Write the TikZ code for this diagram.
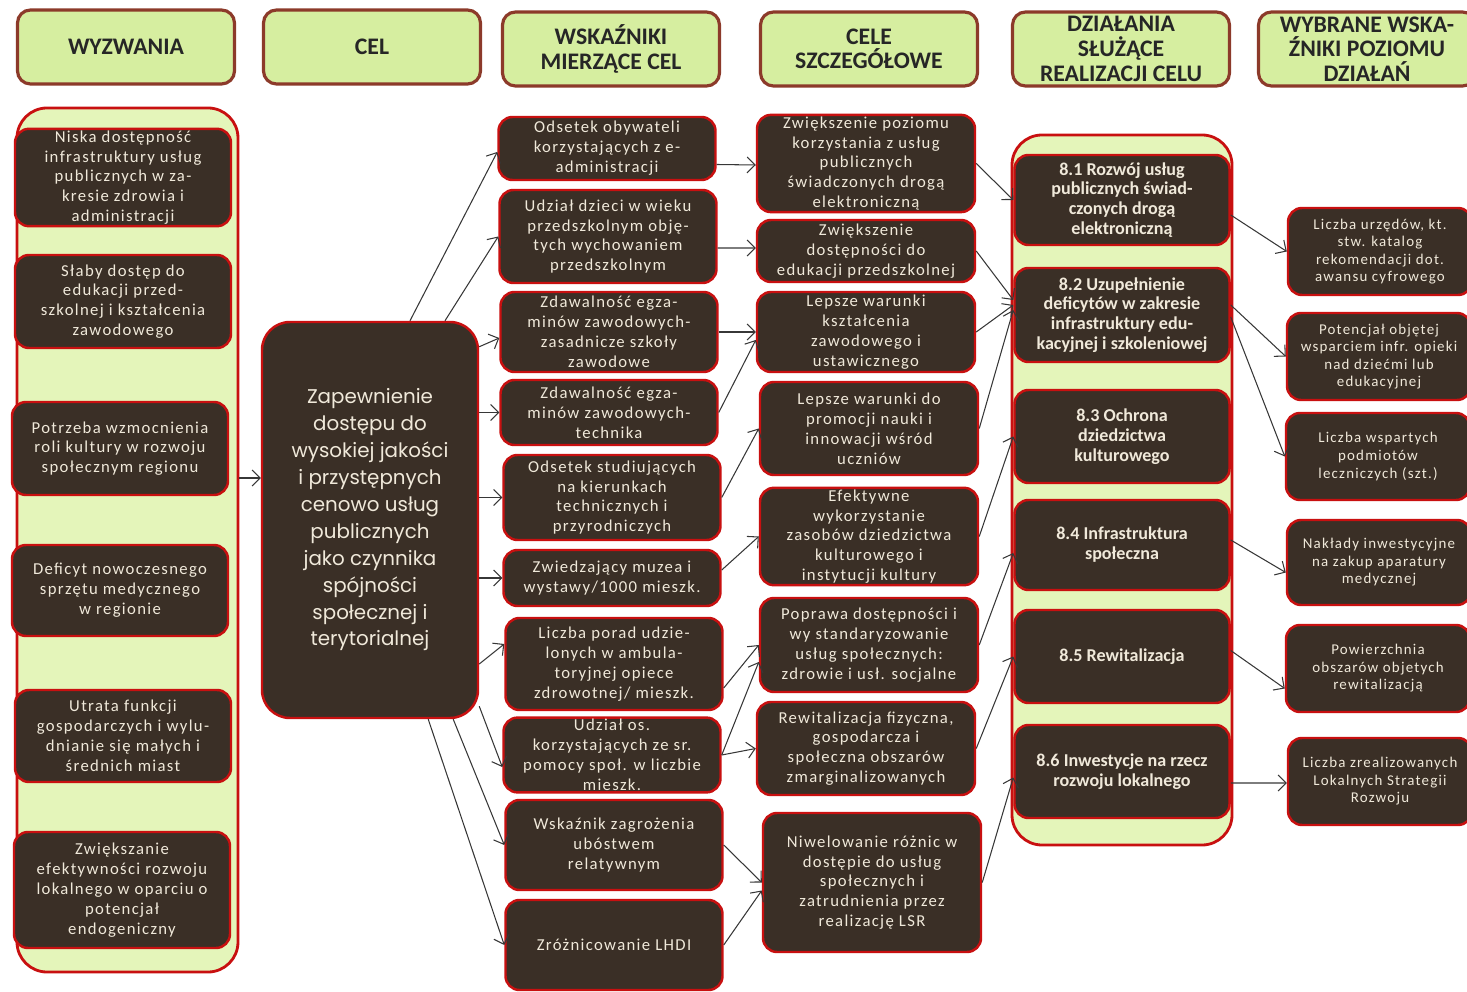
\documentclass[tikz,border=0pt]{standalone}
\usepackage{fontspec}
\setmainfont{Carlito}
\newfontfamily\rozstrzel[LetterSpace=8]{Carlito}
\newfontfamily\celfont{Poppins}
\usetikzlibrary{arrows.meta}

\definecolor{brazowy}{RGB}{58,47,38}
\definecolor{kremowy}{RGB}{240,233,218}
\definecolor{czerwony}{RGB}{200,16,16}
\definecolor{zielony}{RGB}{228,245,186}
\definecolor{naglzielony}{RGB}{214,238,160}
\definecolor{naglbrzeg}{RGB}{140,58,42}
\definecolor{linia}{RGB}{55,55,55}

\begin{document}
\begin{tikzpicture}
  [
    x=0.2mm, y=-0.2mm,
    >={Straight Barb[length=1.6mm,width=3.2mm]},
    nagl/.style={draw=naglbrzeg, line width=1.8pt, fill=naglzielony,
      rounded corners=2.6mm, minimum width=43.4mm, minimum height=14.8mm,
      inner sep=0pt, align=center, text=black!85,
      font=\bfseries\fontsize{13.5}{14}\selectfont},
    ramka/.style={draw=czerwony, line width=1.6pt, fill=zielony,
      rounded corners=6mm, inner sep=0pt},
    pole/.style={draw=czerwony, line width=1.4pt, fill=brazowy,
      rounded corners=2.8mm, text=kremowy, align=center, inner sep=1pt,
      font=\rozstrzel\fontsize{9.5}{11.3}\selectfont},
    wyz/.style={pole, minimum width=43.2mm},
    wsk/.style={pole, minimum width=43.4mm},
    cs/.style={pole, minimum width=43.6mm},
    dz/.style={pole, minimum width=43mm,
      font=\bfseries\fontsize{10.3}{11.3}\selectfont},
    wd/.style={pole, minimum width=36.8mm,
      font=\rozstrzel\fontsize{8.5}{10}\selectfont},
    ld/.style={draw=linia, line width=0.6pt, ->}
  ]
  \useasboundingbox (0,0) rectangle (1467,992);

  % naglowki kolumn
  \node (h1) at (126,47)  [nagl] {WYZWANIA};
  \node (h2) at (372,47)  [nagl] {CEL};
  \node (h3) at (611,49)  [nagl] {WSKAŹNIKI\\MIERZĄCE CEL};
  \node (h4) at (869,49)  [nagl] {CELE\\SZCZEGÓŁOWE};
  \node (h5) at (1121,49) [nagl] {DZIAŁANIA\\SŁUŻĄCE\\REALIZACJI CELU};
  \node (h6) at (1367,49) [nagl] {WYBRANE WSKA-\\ŹNIKI POZIOMU\\DZIAŁAŃ};

  % ramki kolumn
  \node (wyzramka) at (127.5,540) [ramka, minimum width=44.2mm, minimum height=172.8mm] {};
  \node (dzramka)  at (1122,490)  [ramka, minimum width=44mm, minimum height=142mm] {};

  % wyzwania
  \node (wyz1) at (123,177.5) [wyz, minimum height=19mm]
    {Niska dostępność\\infrastruktury usług\\publicznych w za-\\kresie zdrowia i\\administracji};
  \node (wyz2) at (123,301.5) [wyz, minimum height=18.6mm]
    {Słaby dostęp do\\edukacji przed-\\szkolnej i kształcenia\\zawodowego};
  \node (wyz3) at (120,448.5) [wyz, minimum height=18.6mm]
    {Potrzeba wzmocnienia\\roli kultury w rozwoju\\społecznym regionu};
  \node (wyz4) at (120,590.5) [wyz, minimum height=18.2mm]
    {Deficyt nowoczesnego\\sprzętu medycznego\\w regionie};
  \node (wyz5) at (123,736)   [wyz, minimum height=18.4mm]
    {Utrata funkcji\\gospodarczych i wylu-\\dnianie się małych i\\średnich miast};
  \node (wyz6) at (122,890)   [wyz, minimum height=23.2mm]
    {Zwiększanie\\efektywności rozwoju\\lokalnego w oparciu o\\potencjał\\endogeniczny};

  % cel
  \node (cel) at (370,520) [pole, minimum width=43.2mm, minimum height=79.2mm,
    rounded corners=5.6mm, font=\celfont\fontsize{11.3}{15.3}\selectfont]
    {Zapewnienie\\dostępu do\\wysokiej jakości\\i przystępnych\\cenowo usług\\publicznych\\jako czynnika\\spójności\\społecznej i\\terytorialnej};

  % wskazniki mierzace cel
  \node (wsk1)  at (607,148.5) [wsk, minimum height=12.6mm]
    {Odsetek obywateli\\korzystających z e-\\administracji};
  \node (wsk2)  at (608,236.5) [wsk, minimum height=18.6mm]
    {Udział dzieci w wieku\\przedszkolnym obję-\\tych wychowaniem\\przedszkolnym};
  \node (wsk3)  at (609,332)   [wsk, minimum height=16mm]
    {Zdawalność egza-\\minów zawodowych-\\zasadnicze szkoły\\zawodowe};
  \node (wsk4)  at (609,412.5) [wsk, minimum height=13mm]
    {Zdawalność egza-\\minów zawodowych-\\technika};
  \node (wsk5)  at (612,497.5) [wsk, minimum height=17mm]
    {Odsetek studiujących\\na kierunkach\\technicznych i\\przyrodniczych};
  \node (wsk6)  at (612,578)   [wsk, minimum height=11.2mm]
    {Zwiedzający muzea i\\wystawy/1000 mieszk.};
  \node (wsk7)  at (614,664)   [wsk, minimum height=18.4mm]
    {Liczba porad udzie-\\lonych w ambula-\\toryjnej opiece\\zdrowotnej/ mieszk.};
  \node (wsk8)  at (612,755)   [wsk, minimum height=14mm]
    {Udział os.\\korzystających ze sr.\\pomocy społ. w liczbie\\mieszk.};
  \node (wsk9)  at (614,845)   [wsk, minimum height=18mm]
    {Wskaźnik zagrożenia\\ubóstwem\\relatywnym};
  \node (wsk10) at (614,945)   [wsk, minimum height=18mm]
    {Zróżnicowanie LHDI};

  % cele szczegolowe
  \node (cs1) at (866,163.5) [cs, minimum height=18.6mm]
    {Zwiększenie poziomu\\korzystania z usług\\publicznych\\świadczonych drogą\\elektroniczną};
  \node (cs2) at (866,251)   [cs, minimum height=12.4mm]
    {Zwiększenie\\dostępności do\\edukacji przedszkolnej};
  \node (cs3) at (866,332)   [cs, minimum height=16mm]
    {Lepsze warunki\\kształcenia\\zawodowego i\\ustawicznego};
  \node (cs4) at (869,428.5) [cs, minimum height=18.6mm]
    {Lepsze warunki do\\promocji nauki i\\innowacji wśród\\uczniów};
  \node (cs5) at (869,536.5) [cs, minimum height=18.6mm]
    {Efektywne\\wykorzystanie\\zasobów dziedzictwa\\kulturowego i\\instytucji kultury};
  \node (cs6) at (869,645)   [cs, minimum height=18.8mm]
    {Poprawa dostępności i\\wy standaryzowanie\\usług społecznych:\\zdrowie i usł. socjalne};
  \node (cs7) at (866,748.5) [cs, minimum height=18.6mm]
    {Rewitalizacja fizyczna,\\gospodarcza i\\społeczna obszarów\\zmarginalizowanych};
  \node (cs8) at (872,882.5) [cs, minimum height=27.8mm]
    {Niwelowanie różnic w\\dostępie do usług\\społecznych i\\zatrudnienia przez\\realizację LSR};

  % dzialania
  \node (dz1) at (1122,200)   [dz, minimum height=18mm]
    {8.1 Rozwój usług\\publicznych świad-\\czonych drogą\\elektroniczną};
  \node (dz2) at (1122,315)   [dz, minimum height=18.8mm]
    {8.2 Uzupełnienie\\deficytów w zakresie\\infrastruktury edu-\\kacyjnej i szkoleniowej};
  \node (dz3) at (1122,436.5) [dz, minimum height=18.6mm]
    {8.3 Ochrona\\dziedzictwa\\kulturowego};
  \node (dz4) at (1122,545)   [dz, minimum height=18mm]
    {8.4 Infrastruktura\\społeczna};
  \node (dz5) at (1122,656.5) [dz, minimum height=18.6mm]
    {8.5 Rewitalizacja};
  \node (dz6) at (1122,771.5) [dz, minimum height=18.6mm]
    {8.6 Inwestycje na rzecz\\rozwoju lokalnego};

  % wskazniki dzialan
  \node (wd1) at (1380,251.5) [wd, minimum height=17.4mm]
    {Liczba urzędów, kt.\\stw. katalog\\rekomendacji dot.\\awansu cyfrowego};
  \node (wd2) at (1379,356.5) [wd, minimum height=17.4mm]
    {Potencjał objętej\\wsparciem infr. opieki\\nad dziećmi lub\\edukacyjnej};
  \node (wd3) at (1378,456.5) [wd, minimum height=17.4mm]
    {Liczba wspartych\\podmiotów\\leczniczych (szt.)};
  \node (wd4) at (1379,562.5) [wd, minimum height=17mm]
    {Nakłady inwestycyjne\\na zakup aparatury\\medycznej};
  \node (wd5) at (1378,668.5) [wd, minimum height=17.4mm]
    {Powierzchnia\\obszarów objetych\\rewitalizacją};
  \node (wd6) at (1380,781.5) [wd, minimum height=17.4mm]
    {Liczba zrealizowanych\\Lokalnych Strategii\\Rozwoju};

  % wyzwania -> cel
  \coordinate (wejscie) at ([yshift=8.4mm]cel.west);
  \draw [ld] (wyzramka.east |- wejscie) -- (wejscie);

  % cel -> wskazniki
  \draw [ld] ([xshift=8mm]cel.north)         -- ([yshift=-0.7mm]wsk1.west);
  \draw [ld] ([xshift=15mm]cel.north)        -- (wsk2.west);
  \draw [ld] ([yshift=-5.2mm]cel.north east) -- ([yshift=-1.2mm]wsk3.west);
  \draw [ld] (cel.east |- wsk4.west)         -- (wsk4.west);
  \draw [ld] (cel.east |- wsk5.west)         -- (wsk5.west);
  \draw [ld] (cel.east |- wsk6.west)         -- (wsk6.west);
  \draw [ld] (cel.east |- wsk7.west)         -- ([yshift=4mm]wsk7.west);
  \draw [ld] ([yshift=2.6mm]cel.south east)  -- ([yshift=-2.4mm]wsk8.west);
  \draw [ld] ([xshift=-5.2mm]cel.south east) -- (wsk9.west);
  \draw [ld] ([xshift=-10.2mm]cel.south east) -- (wsk10.west);

  % wskazniki -> cele szczegolowe
  \draw [ld] ([yshift=-3.2mm]wsk1.east) -- ([yshift=-0.3mm]cs1.west);
  \draw [ld] ([yshift=-2.3mm]wsk2.east) -- ([yshift=0.6mm]cs2.west);
  \draw [ld] (wsk3.east)                -- (cs3.west);
  \draw [ld] (wsk4.east)                -- ([yshift=-1.6mm]cs3.west);
  \draw [ld] (wsk5.east)                -- (cs4.west);
  \draw [ld] ([yshift=1.6mm]wsk6.east)  -- (cs5.west);
  \draw [ld] ([yshift=-4.8mm]wsk7.east) -- (cs6.west);
  \draw [ld] (wsk8.east)                -- ([yshift=-3.4mm]cs6.west);
  \draw [ld] (wsk8.east)                -- (cs7.west);
  \draw [ld] (wsk9.east)                -- (cs8.west);
  \draw [ld] (wsk10.east)               -- ([yshift=-1.6mm]cs8.west);

  % cele szczegolowe -> dzialania
  \draw [ld] (cs1.east) -- (dz1.west);
  \draw [ld] (cs2.east) -- ([yshift=3mm]dz2.west);
  \draw [ld] (cs3.east) -- ([yshift=2mm]dz2.west);
  \draw [ld] (cs4.east) -- ([yshift=1mm]dz2.west);
  \draw [ld] (cs5.east) -- (dz3.west);
  \draw [ld] (cs6.east) -- ([yshift=-1.6mm]dz4.west);
  \draw [ld] (cs7.east) -- (dz5.west);
  \draw [ld] (cs8.east) -- ([yshift=-1.2mm]dz6.west);

  % dzialania -> wskazniki dzialan
  \draw [ld] ([yshift=-3mm]dz1.east)   -- (wd1.west);
  \draw [ld] ([yshift=2mm]dz2.east)    -- (wd2.west);
  \draw [ld] ([yshift=-0.4mm]dz2.east) -- (wd3.west);
  \draw [ld] ([yshift=1mm]dz4.east)    -- ([yshift=-2mm]wd4.west);
  \draw [ld] ([yshift=1.2mm]dz5.east)  -- ([yshift=-4mm]wd5.west);
  \draw [ld] ([yshift=-2.3mm]dz6.east) -- ([yshift=-0.3mm]wd6.west);
\end{tikzpicture}
\end{document}
